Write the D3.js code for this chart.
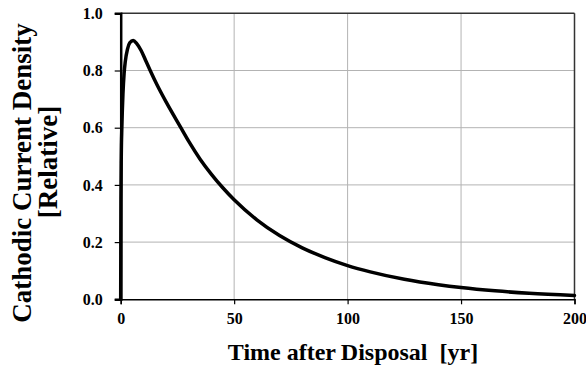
<!DOCTYPE html>
<html>
<head>
<meta charset="utf-8">
<script src="https://cdn.jsdelivr.net/npm/d3@7"></script>
<style>
  html, body { margin: 0; padding: 0; background: #fff; }
  svg { display: block; }
  svg text { font-family: "Liberation Serif", "Times New Roman", serif !important; font-weight: bold; fill: #000; }
</style>
</head>
<body>
<svg id="chart" width="586" height="369"></svg>
<script>
// Data
const years = [0, 0.1, 0.25, 0.5, 1, 1.5, 2, 3, 4, 5.5, 7, 9, 11, 13, 16, 20, 26.5, 30, 35, 40, 45, 50, 60, 70, 80, 90, 100, 110, 125, 140, 150, 165, 180, 200];
const density = [0, 0.35, 0.5, 0.6, 0.72, 0.79, 0.83, 0.875, 0.897, 0.905, 0.895, 0.87, 0.835, 0.8, 0.75, 0.69, 0.6, 0.552, 0.49, 0.437, 0.39, 0.348, 0.278, 0.223, 0.18, 0.146, 0.118, 0.096, 0.07, 0.051, 0.041, 0.0295, 0.021, 0.0135];
const xTicks = [0, 50, 100, 150, 200];
const yTicks = [0, 0.2, 0.4, 0.6, 0.8, 1.0];
const xTitle = "Time after\u2009Disposal\u00a0\u00a0[yr]";
const yTitle1 = "Cathodic Current Density";
const yTitle2 = "[Relative]";

const svg = d3.select("#chart");
const L = 120.7, R = 574.5, T = 13.3, B = 299.3;
const x = d3.scaleLinear().domain([0, 200]).range([L, R]);
const y = d3.scaleLinear().domain([0, 1]).range([B, T]);

// gridlines
svg.append("g").selectAll("line").data(yTicks.filter(d => d > 0 && d < 1)).join("line")
  .attr("x1", L).attr("x2", R).attr("y1", d => y(d)).attr("y2", d => y(d))
  .attr("stroke", "#b3b3b3").attr("stroke-width", 1);
svg.append("g").selectAll("line").data(xTicks.filter(d => d > 0 && d < 200)).join("line")
  .attr("y1", T).attr("y2", B).attr("x1", d => x(d)).attr("x2", d => x(d))
  .attr("stroke", "#b3b3b3").attr("stroke-width", 1);

// plot border top/right
svg.append("line").attr("x1", L).attr("x2", R).attr("y1", T).attr("y2", T)
  .attr("stroke", "#333").attr("stroke-width", 1.5);
svg.append("line").attr("x1", R).attr("x2", R).attr("y1", T).attr("y2", B)
  .attr("stroke", "#333").attr("stroke-width", 1.5);

// axes
const xAxis = svg.append("g").attr("transform", `translate(0,${B})`)
  .call(d3.axisBottom(x).tickValues(xTicks).tickFormat(d3.format("d")).tickSize(5).tickPadding(8));
const yAxis = svg.append("g").attr("transform", `translate(${L},0)`)
  .call(d3.axisLeft(y).tickValues(yTicks).tickFormat(d3.format(".1f")).tickSize(6).tickPadding(12));
[xAxis, yAxis].forEach(a => {
  a.attr("font-family", "Liberation Serif, serif").attr("font-size", 16);
  a.selectAll("text").attr("font-family", "Liberation Serif, serif").attr("font-weight", "bold").attr("font-size", 16).attr("fill", "#000");
  a.selectAll("line").attr("stroke", "#000").attr("stroke-width", 1.2);
});
xAxis.select(".domain").attr("stroke", "#000").attr("stroke-width", 1.5);
yAxis.select(".domain").attr("stroke", "#000").attr("stroke-width", 2.5);

// curve
const line = d3.line().x((d, i) => x(years[i])).y(d => y(d)).curve(d3.curveMonotoneX);
svg.append("path").datum(density).attr("d", line)
  .attr("fill", "none").attr("stroke", "#000").attr("stroke-width", 3.5)
  .attr("stroke-linejoin", "round").attr("stroke-linecap", "round");

// titles
svg.append("text").attr("x", 353).attr("y", 360).attr("text-anchor", "middle")
  .style("font-size", "24px").style("white-space", "pre").text(xTitle);
svg.append("text").attr("transform", "translate(31,173) rotate(-90)").attr("text-anchor", "middle")
  .style("font-size", "27px").text(yTitle1);
svg.append("text").attr("transform", "translate(57,162) rotate(-90)").attr("text-anchor", "middle")
  .style("font-size", "27px").text(yTitle2);
</script>
</body>
</html>
